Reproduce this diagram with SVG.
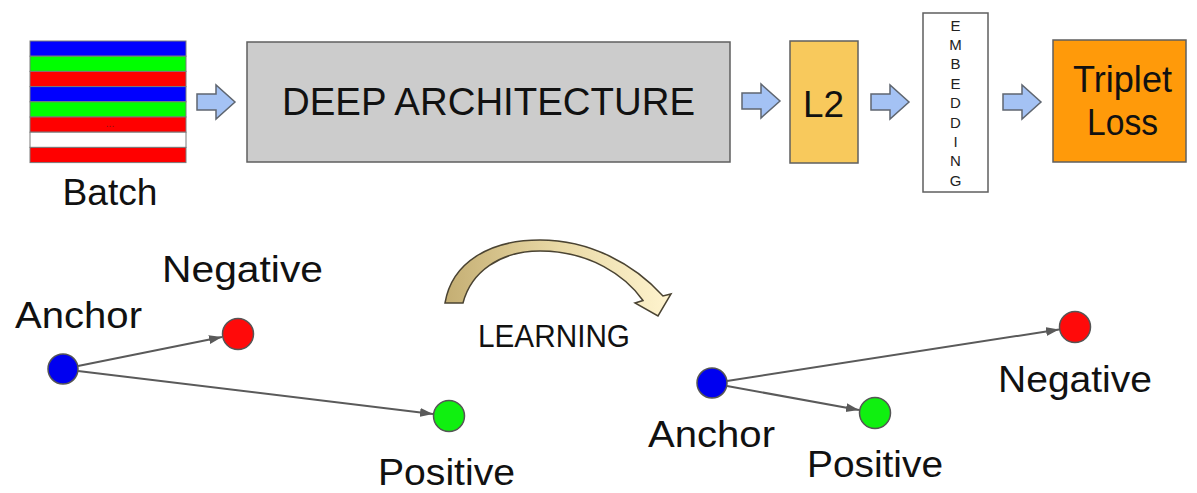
<svg xmlns="http://www.w3.org/2000/svg" width="1197" height="493" viewBox="0 0 1197 493">
  <style>
    .lbl { font-family: "Liberation Sans", Arial, sans-serif; fill: #111; }
    .stripe { stroke: #7a7a7a; stroke-width: 1; }
    .box { stroke: #5f5f5f; stroke-width: 1.5; }
    .blockarrow { fill: #a4c2f4; stroke: #5f6670; stroke-width: 1.5; stroke-linejoin: miter; }
    .dot { stroke: #555; stroke-width: 1.5; }
    .edge { stroke: #5a5a5a; stroke-width: 2; fill: none; marker-end: url(#head); }
    .emb { font-family: "Liberation Sans", Arial, sans-serif; font-size: 15px; fill: #222; text-anchor: middle; }
  </style>
  <defs>
    <marker id="head" markerUnits="userSpaceOnUse" markerWidth="14" markerHeight="10" refX="13" refY="5" orient="auto">
      <path d="M0,0.5 L13,5 L0,9.5 z" fill="#5a5a5a"/>
    </marker>
    <path id="barrow" class="blockarrow" d="M0,-8 L19,-8 L19,-17 L38,0 L19,17 L19,8 L0,8 z"/>
    <linearGradient id="learnGrad" x1="445" y1="0" x2="672" y2="0" gradientUnits="userSpaceOnUse">
      <stop offset="0" stop-color="#c4ae73"/>
      <stop offset="0.5" stop-color="#e9d9a6"/>
      <stop offset="1" stop-color="#fff4cf"/>
    </linearGradient>
  </defs>

  <rect width="1197" height="493" fill="#ffffff"/>

  <!-- Batch of samples -->
  <g id="batch">
    <rect class="stripe" x="30" y="41" width="156" height="15.2" fill="#0000ff"/>
    <rect class="stripe" x="30" y="56.2" width="156" height="15.2" fill="#00ff00"/>
    <rect class="stripe" x="30" y="71.4" width="156" height="15.2" fill="#ff0000"/>
    <rect class="stripe" x="30" y="86.6" width="156" height="15.2" fill="#0000ff"/>
    <rect class="stripe" x="30" y="101.8" width="156" height="15.2" fill="#00ff00"/>
    <rect class="stripe" x="30" y="117" width="156" height="15.2" fill="#ff0000"/>
    <rect class="stripe" x="30" y="132.2" width="156" height="15.2" fill="#ffffff"/>
    <rect class="stripe" x="30" y="147.4" width="156" height="15.2" fill="#ff0000"/>
    <text x="110" y="127" font-family="Liberation Sans, sans-serif" font-size="10" fill="#8a1010" text-anchor="middle">...</text>
    <text class="lbl" x="110" y="205" font-size="36" text-anchor="middle" textLength="95" lengthAdjust="spacingAndGlyphs">Batch</text>
  </g>

  <!-- Pipeline stages -->
  <g id="deep-architecture">
    <rect class="box" x="247" y="42" width="483" height="120" fill="#cccccc"/>
    <text class="lbl" x="488.5" y="115" font-size="38" text-anchor="middle" textLength="413" lengthAdjust="spacingAndGlyphs">DEEP ARCHITECTURE</text>
  </g>

  <g id="l2">
    <rect class="box" x="790" y="41" width="68" height="122" fill="#f8c95c"/>
    <text class="lbl" x="823.5" y="117" font-size="37" text-anchor="middle" textLength="41" lengthAdjust="spacingAndGlyphs">L2</text>
  </g>

  <g id="embedding">
    <rect class="box" x="923" y="13" width="65" height="179" fill="#ffffff"/>
    <text class="emb" x="955.5" y="30.5">E</text>
    <text class="emb" x="955.5" y="49.9">M</text>
    <text class="emb" x="955.5" y="69.3">B</text>
    <text class="emb" x="955.5" y="88.7">E</text>
    <text class="emb" x="955.5" y="108.1">D</text>
    <text class="emb" x="955.5" y="127.5">D</text>
    <text class="emb" x="955.5" y="146.9">I</text>
    <text class="emb" x="955.5" y="166.3">N</text>
    <text class="emb" x="955.5" y="185.7">G</text>
  </g>

  <g id="triplet-loss">
    <rect class="box" x="1053" y="40" width="133" height="122" fill="#ff9a0a"/>
    <text class="lbl" x="1122.5" y="92" font-size="36" text-anchor="middle" textLength="99" lengthAdjust="spacingAndGlyphs">Triplet</text>
    <text class="lbl" x="1122.5" y="135" font-size="36" text-anchor="middle" textLength="71" lengthAdjust="spacingAndGlyphs">Loss</text>
  </g>

  <!-- Flow arrows between stages -->
  <g id="pipeline-arrows">
    <use href="#barrow" x="197" y="102"/>
    <use href="#barrow" x="742" y="101"/>
    <use href="#barrow" x="871" y="102"/>
    <use href="#barrow" x="1003" y="102"/>
  </g>

  <!-- Learning step -->
  <g id="learning">
    <path d="M445,303 C452,262 490,240 540,240 C590,240 634,264 663,296 L671,294 L658,316 L635,303 L643,300.5 C626,276 590,251 540,251 C500,251 471,272 463,303 Z" fill="url(#learnGrad)" stroke="#4a4332" stroke-width="1.5" stroke-linejoin="miter"/>
    <text class="lbl" x="554" y="347" font-size="31" text-anchor="middle" textLength="152" lengthAdjust="spacingAndGlyphs">LEARNING</text>
  </g>

  <!-- Triplet before learning -->
  <g id="anchor-before">
    <circle class="dot" cx="63" cy="369" r="15" fill="#0000f0"/>
    <text class="lbl" x="15" y="328" font-size="37" textLength="127" lengthAdjust="spacingAndGlyphs">Anchor</text>
  </g>
  <g id="negative-before">
    <circle class="dot" cx="238" cy="334" r="15.5" fill="#ff0a0a"/>
    <text class="lbl" x="162" y="282" font-size="37" textLength="161" lengthAdjust="spacingAndGlyphs">Negative</text>
  </g>
  <g id="positive-before">
    <circle class="dot" cx="449" cy="416" r="15.5" fill="#10f010"/>
    <text class="lbl" x="378" y="485" font-size="37" textLength="137" lengthAdjust="spacingAndGlyphs">Positive</text>
  </g>

  <!-- Triplet after learning -->
  <g id="anchor-after">
    <circle class="dot" cx="712" cy="383" r="15" fill="#0000f0"/>
    <text class="lbl" x="648" y="447" font-size="37" textLength="127" lengthAdjust="spacingAndGlyphs">Anchor</text>
  </g>
  <g id="positive-after">
    <circle class="dot" cx="875" cy="413" r="15.5" fill="#10f010"/>
    <text class="lbl" x="807" y="477" font-size="37" textLength="136" lengthAdjust="spacingAndGlyphs">Positive</text>
  </g>
  <g id="negative-after">
    <circle class="dot" cx="1075" cy="327" r="15.5" fill="#ff0a0a"/>
    <text class="lbl" x="998" y="392" font-size="37" textLength="154" lengthAdjust="spacingAndGlyphs">Negative</text>
  </g>

  <!-- Distance connectors -->
  <g id="connectors">
    <line class="edge" x1="78" y1="366" x2="222" y2="337"/>
    <line class="edge" x1="78" y1="371" x2="433" y2="414"/>
    <line class="edge" x1="727" y1="381" x2="1059" y2="329.5"/>
    <line class="edge" x1="727" y1="386" x2="859" y2="410"/>
  </g>
</svg>
